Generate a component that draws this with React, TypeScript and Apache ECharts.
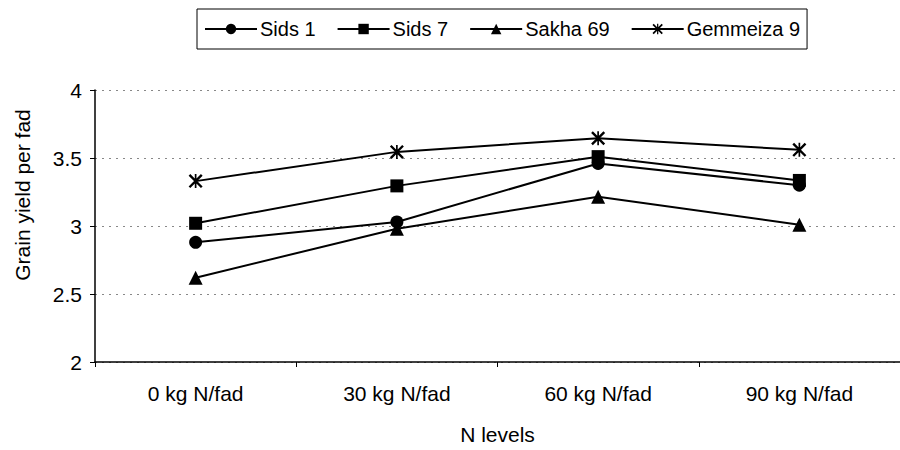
import React, { useEffect, useRef } from "react";
import * as echarts from "echarts";

const categories = ["0 kg N/fad", "30 kg N/fad", "60 kg N/fad", "90 kg N/fad"];
const sids1 = [2.88, 3.03, 3.46, 3.3];
const sids7 = [3.02, 3.295, 3.51, 3.335];
const sakha69 = [2.62, 2.98, 3.215, 3.01];
const gemmeiza9 = [3.33, 3.545, 3.645, 3.56];
const seriesNames = ["Sids 1", "Sids 7", "Sakha 69", "Gemmeiza 9"];

const STAR =
  "path://M4.4,0 L5.6,0 L5.6,10 L4.4,10 Z M0,1.2 L1.2,0 L10,8.8 L8.8,10 Z M8.8,0 L10,1.2 L1.2,10 L0,8.8 Z";

const FONT = "'Liberation Sans', Arial, sans-serif";

export default function App() {
  const ref = useRef<HTMLDivElement>(null);
  useEffect(() => {
    if (!ref.current) return;
    const chart = echarts.init(ref.current, undefined, { renderer: "svg" });
    const mk = (name: string, data: number[], symbol: string, size: number) => ({
      name,
      type: "line",
      data,
      symbol,
      symbolSize: size,
      showAllSymbol: true,
      lineStyle: { color: "#000", width: 2 },
      itemStyle: { color: "#000", borderWidth: 0 },
      emphasis: { disabled: true },
    });
    chart.setOption({
      animation: false,
      backgroundColor: "#fff",
      textStyle: { fontFamily: FONT, color: "#000" },
      legend: {
        left: 197,
        top: 9,
        padding: [10, 7, 10, 7],
        borderColor: "#000",
        borderWidth: 1,
        itemWidth: 52,
        itemHeight: 13,
        itemGap: 21,
        textStyle: { fontFamily: FONT, fontSize: 20, color: "#000", padding: [0, 0, 0, -2] },
        data: seriesNames,
      },
      grid: { left: 95, top: 90, width: 813, height: 276, containLabel: false },
      xAxis: {
        type: "category",
        data: categories,
        boundaryGap: true,
        name: "N levels",
        nameLocation: "middle",
        nameGap: 62,
        nameTextStyle: { fontFamily: FONT, fontSize: 21, color: "#000" },
        axisLine: { lineStyle: { color: "#000", width: 1.5 } },
        axisTick: { show: true, length: 5, lineStyle: { color: "#000" } },
        axisLabel: { fontFamily: FONT, fontSize: 21, color: "#000", margin: 21 },
        splitLine: { show: false },
      },
      yAxis: {
        type: "value",
        min: 2,
        max: 4,
        interval: 0.5,
        axisLine: { show: true, lineStyle: { color: "#000", width: 1.5 } },
        axisTick: { show: true, length: 5, inside: false, lineStyle: { color: "#000" } },
        axisLabel: { fontFamily: FONT, fontSize: 21, color: "#000", margin: 13 },
        splitLine: {
          show: true,
          lineStyle: { color: "#888", width: 1, type: [2, 5] },
        },
      },
      graphic: [
        {
          type: "text",
          x: 22,
          y: 195,
          rotation: Math.PI / 2,
          style: {
            text: "Grain yield per fad",
            fontFamily: FONT,
            fontSize: 21,
            fill: "#000",
            align: "center",
            verticalAlign: "middle",
          },
        },
      ],
      series: [
        mk("Sids 1", sids1, "circle", 13),
        mk("Sids 7", sids7, "rect", 13),
        mk("Sakha 69", sakha69, "triangle", 14),
        mk("Gemmeiza 9", gemmeiza9, STAR, 14),
      ],
    });
    return () => chart.dispose();
  }, []);
  return (
    <div
      ref={ref}
      style={{ position: "absolute", left: 0, top: 0, width: 900, height: 450 }}
    />
  );
}
